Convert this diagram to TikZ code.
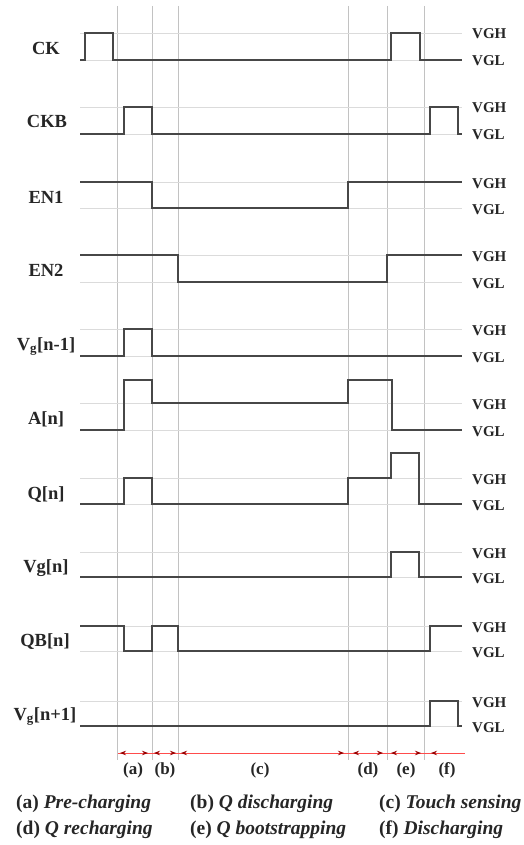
\documentclass[tikz,border=0pt]{standalone}
\usepackage{fontspec}
\setmainfont{Liberation Serif}
\usetikzlibrary{arrows.meta}
\begin{document}
\begin{tikzpicture}[x=1pt,y=-1pt,
  sig/.style={line width=1.5pt, draw=black!72, line join=miter},
  refl/.style={draw=black!14, line width=0.7pt},
  vline/.style={draw=black!24, line width=0.6pt},
  lbl/.style={font=\fontsize{18.5}{18.5}\selectfont\bfseries, anchor=base, inner sep=0pt, text=black!85},
  lvl/.style={font=\fontsize{15}{15}\selectfont\bfseries, anchor=base west, inner sep=0pt, text=black!85},
  phase/.style={font=\fontsize{17}{17}\selectfont\bfseries, anchor=base, inner sep=0pt, text=black!85},
  leg/.style={font=\fontsize{19.5}{19.5}\selectfont\bfseries, anchor=base west, inner sep=0pt, text=black!85},
  redl/.style={draw=red!70, line width=0.8pt},
  parr/.style={draw=red!70, line width=0.8pt, {Stealth[length=6pt,width=4.5pt,color=red!60!black]}-{Stealth[length=6pt,width=4.5pt,color=red!60!black]}}
]
\useasboundingbox (0,0) rectangle (523,845);
\fill[white] (0,0) rectangle (523,845);

% vertical phase boundaries
\foreach \x in {117,152,178,348,387,424} \draw[vline] (\x,6) -- (\x,760);

% reference level lines
\foreach \y in {33,60,107,134,182,208,255,282,329,356,403,430,478,504,552,577,626,651,701,726}
  \draw[refl] (80,\y) -- (462,\y);

% signals
\draw[sig] (80,60) -- (85,60) -- (85,33) -- (113,33) -- (113,60) -- (391,60) -- (391,33) -- (420,33) -- (420,60) -- (462,60);
\draw[sig] (80,134) -- (124,134) -- (124,107) -- (152,107) -- (152,134) -- (430,134) -- (430,107) -- (458,107) -- (458,134) -- (462,134);
\draw[sig] (80,182) -- (152,182) -- (152,208) -- (348,208) -- (348,182) -- (462,182);
\draw[sig] (80,255) -- (178,255) -- (178,282) -- (387,282) -- (387,255) -- (462,255);
\draw[sig] (80,356) -- (124,356) -- (124,329) -- (152,329) -- (152,356) -- (462,356);
\draw[sig] (80,430) -- (124,430) -- (124,380) -- (152,380) -- (152,403) -- (348,403) -- (348,380) -- (392,380) -- (392,430) -- (462,430);
\draw[sig] (80,504) -- (124,504) -- (124,478) -- (152,478) -- (152,504) -- (348,504) -- (348,478) -- (391,478) -- (391,453) -- (419,453) -- (419,504) -- (462,504);
\draw[sig] (80,577) -- (391,577) -- (391,552) -- (419,552) -- (419,577) -- (462,577);
\draw[sig] (80,626) -- (124,626) -- (124,651) -- (152,651) -- (152,626) -- (178,626) -- (178,651) -- (430,651) -- (430,626) -- (462,626);
\draw[sig] (80,726) -- (430,726) -- (430,701) -- (458,701) -- (458,726) -- (462,726);

% signal names
\node[lbl] (nck)  at (46,55)  {CK};
\node[lbl] (nckb) at (47,128) {CKB};
\node[lbl] (nen1) at (46,203) {EN1};
\node[lbl] (nen2) at (46,276) {EN2};
\node[lbl] (nvgm) at (46,350) {V\textsubscript{g}[n-1]};
\node[lbl] (nan)  at (46,424) {A[n]};
\node[lbl] (nqn)  at (46,499) {Q[n]};
\node[lbl] (nvgn) at (46,572) {Vg[n]};
\node[lbl] (nqbn) at (45,646) {QB[n]};
\node[lbl] (nvgp) at (45,720) {V\textsubscript{g}[n+1]};

% level names
\foreach \n/\y/\t in {a/33/VGH,b/60/VGL,c/107/VGH,d/134/VGL,e/182/VGH,f/208/VGL,g/255/VGH,h/282/VGL,i/329/VGH,j/356/VGL,k/403/VGH,l/430/VGL,m/478/VGH,n/504/VGL,o/552/VGH,p/577/VGL,q/626/VGH,r/651/VGL,s/701/VGH,t/726/VGL}
  \node[lvl] (lv\n) at (472,\y+6) {\t};

% phase arrows
\coordinate (r0) at (118,753);
\coordinate (r1) at (465,753);
\draw[redl] (r0) -- (r1);
\coordinate (pa1) at (120,753); \coordinate (pa2) at (148,753);
\coordinate (pb1) at (154,753); \coordinate (pb2) at (176,753);
\coordinate (pc1) at (181,753); \coordinate (pc2) at (344,753);
\coordinate (pd1) at (353,753); \coordinate (pd2) at (383,753);
\coordinate (pe1) at (391,753); \coordinate (pe2) at (421,753);
\coordinate (pf1) at (431,753);
\draw[parr] (pa1) -- (pa2);
\draw[parr] (pb1) -- (pb2);
\draw[parr] (pc1) -- (pc2);
\draw[parr] (pd1) -- (pd2);
\draw[parr] (pe1) -- (pe2);
\draw[redl, {Stealth[length=6pt,width=4.5pt,color=red!60!black]}-] (pf1) -- (r1);

% phase labels
\node[phase] (ta) at (133,774) {(a)};
\node[phase] (tb) at (165,774) {(b)};
\node[phase] (tc) at (260,774) {(c)};
\node[phase] (td) at (368,774) {(d)};
\node[phase] (te) at (406,774) {(e)};
\node[phase] (tf) at (447,774) {(f)};

% legend
\node[leg] (la) at (16,808)  {(a) \textit{Pre-charging}};
\node[leg] (lb) at (190,808) {(b) \textit{Q discharging}};
\node[leg] (lc) at (379,808) {(c) \textit{Touch sensing}};
\node[leg] (ld) at (16,834)  {(d) \textit{Q recharging}};
\node[leg] (le) at (190,834) {(e) \textit{Q bootstrapping}};
\node[leg] (lf) at (379,834) {(f) \textit{Discharging}};
\end{tikzpicture}
\end{document}
